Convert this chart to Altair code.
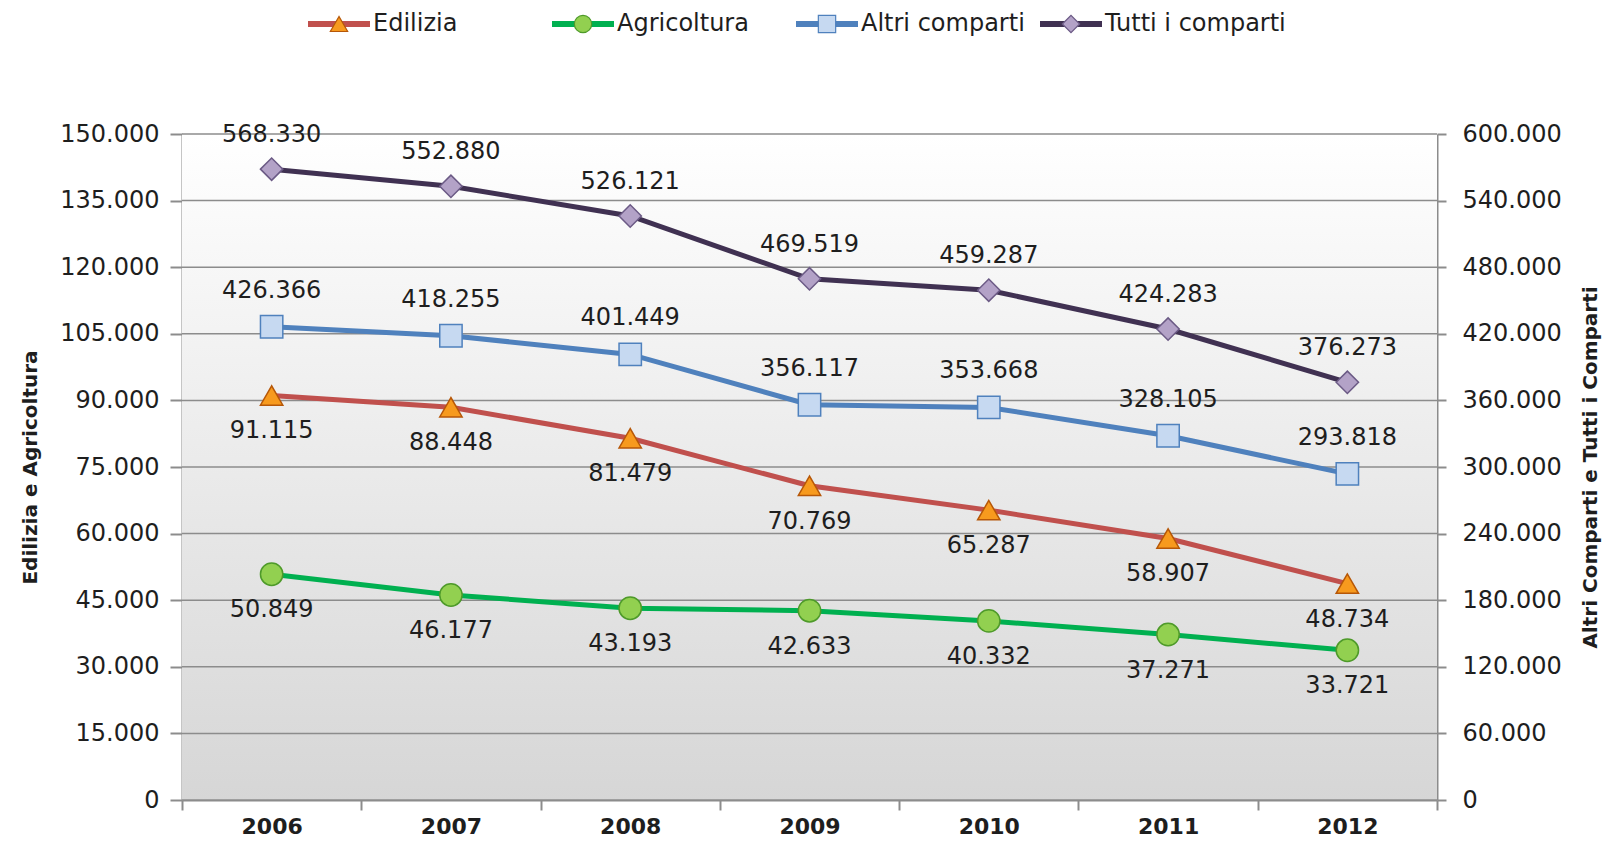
import altair as alt
import pandas as pd

years = ["2006", "2007", "2008", "2009", "2010", "2011", "2012"]
edilizia = [91115, 88448, 81479, 70769, 65287, 58907, 48734]
agricoltura = [50849, 46177, 43193, 42633, 40332, 37271, 33721]
altri = [426366, 418255, 401449, 356117, 353668, 328105, 293818]
tutti = [568330, 552880, 526121, 469519, 459287, 424283, 376273]
left_ticks = [0, 15000, 30000, 45000, 60000, 75000, 90000, 105000, 120000, 135000, 150000]
right_ticks = [0, 60000, 120000, 180000, 240000, 300000, 360000, 420000, 480000, 540000, 600000]

series = ["Edilizia", "Agricoltura", "Altri comparti", "Tutti i comparti"]
line_colors = ["#C0504D", "#00B050", "#4F81BD", "#403152"]
marker_fills = ["#F79A1E", "#92D050", "#C6D9F1", "#B3A2C7"]
marker_strokes = ["#B65708", "#4E9A2A", "#4F81BD", "#6B5A85"]
shapes = ["triangle-up", "circle", "square", "diamond"]

rows = []
for s, vals in zip(series, [edilizia, agricoltura, altri, tutti]):
    for y, v in zip(years, vals):
        rows.append({"Anno": y, "Serie": s, "Valore": v})
df = pd.DataFrame(rows)
left_df = df[df.Serie.isin(["Edilizia", "Agricoltura"])]
right_df = df[df.Serie.isin(["Altri comparti", "Tutti i comparti"])]

W, H = 1255, 666
FONT = "DejaVu Sans"
FS = 24
TXT = "#1e1e1e"
AX = "#8c8c8c"
fmt_expr = "replace(format(datum.value, ','), ',', '.')"


def x_enc(show):
    if show:
        ax = alt.Axis(title=None, tickBand="extent", labelAngle=0, labelFontSize=22,
                      labelFont=FONT, labelFontWeight="bold", labelColor=TXT, tickSize=10,
                      labelPadding=6, domainColor=AX, tickColor=AX,
                      domainWidth=2, tickWidth=2, grid=False)
    else:
        ax = None
    return alt.X("Anno:N", scale=alt.Scale(domain=years, paddingInner=0, paddingOuter=0),
                 axis=ax)


line_scale = alt.Scale(domain=series, range=line_colors)
mstroke_scale = alt.Scale(domain=series, range=marker_strokes)
fill_scale = alt.Scale(domain=series, range=marker_fills)
shape_scale = alt.Scale(domain=series, range=shapes)


def group(data, domain_max, axis, offsets, show_x):
    yenc = alt.Y("Valore:Q", scale=alt.Scale(domain=[0, domain_max], nice=False, zero=True),
                 axis=axis)
    base = alt.Chart(data).encode(x=x_enc(show_x), y=yenc)
    line = base.mark_line(strokeWidth=5).encode(
        color=alt.Color("Serie:N", scale=line_scale, legend=None))
    pts = base.mark_point(filled=True, size=500, strokeWidth=1.5, opacity=1).encode(
        fill=alt.Fill("Serie:N", scale=fill_scale, legend=None),
        stroke=alt.Stroke("Serie:N", scale=mstroke_scale, legend=None),
        shape=alt.Shape("Serie:N", scale=shape_scale, legend=None))
    labels = []
    for s, dy in offsets.items():
        labels.append(base.transform_filter(alt.datum.Serie == s).transform_calculate(
            lab="replace(format(datum.Valore, ','), ',', '.')").mark_text(
            dy=dy, fontSize=FS, font=FONT, color=TXT).encode(text="lab:N"))
    return [line, pts] + labels


left_axis = alt.Axis(title="Edilizia e Agricoltura", values=left_ticks,
                     labelExpr=fmt_expr, labelFontSize=FS, labelFont=FONT, labelColor=TXT,
                     titleFontSize=20, titleFont=FONT, titleFontWeight="bold", titleColor=TXT,
                     titleX=-142, titleY=H / 2, titleAngle=270, titleBaseline="bottom",
                     tickSize=12, labelPadding=11, grid=False, domainColor=AX,
                     tickColor=AX, domainWidth=2, tickWidth=2)
right_axis = alt.Axis(title="Altri Comparti e Tutti i Comparti", orient="right",
                      values=right_ticks, labelExpr=fmt_expr,
                      labelFontSize=FS, labelFont=FONT, labelColor=TXT,
                      titleFontSize=20, titleFont=FONT, titleFontWeight="bold",
                      titleColor=TXT, titleAngle=270, titleX=163, titleY=H / 2,
                      titleBaseline="bottom", tickSize=9,
                      labelPadding=16, grid=False, domainColor=AX,
                      tickColor=AX, domainWidth=2, tickWidth=2)

bg = alt.Chart(alt.Data(values=[{"a": 1}])).mark_rect(
    color=alt.Gradient(gradient="linear",
                       stops=[alt.GradientStop(color="#ffffff", offset=0),
                              alt.GradientStop(color="#d6d6d6", offset=1)],
                       x1=0, x2=0, y1=0, y2=1)
).encode(x=alt.value(0), x2=alt.value(W), y=alt.value(0), y2=alt.value(H))

grid = alt.Chart(pd.DataFrame({"t": left_ticks})).mark_rule(
    color=AX, strokeWidth=1.5).encode(
    y=alt.Y("t:Q", scale=alt.Scale(domain=[0, 150000], nice=False), axis=left_axis))

left = alt.layer(bg, grid, *group(left_df, 150000, left_axis,
                                  {"Edilizia": 36, "Agricoltura": 36}, True))
right = alt.layer(*group(right_df, 600000, right_axis,
                         {"Altri comparti": -36, "Tutti i comparti": -34}, False))

# legend (line segment + marker + label for each series)
leg_df = pd.DataFrame({"Serie": series})
LEG_Y = -110
leg_x = alt.X("Serie:N", type="nominal",
              scale=alt.Scale(type="point", domain=series, range=[157, 889], padding=0),
              axis=None)
leg_base = alt.Chart(leg_df).encode(x=leg_x)
leg_line = leg_base.mark_rule(strokeWidth=6, xOffset=-31, x2Offset=31).encode(
    x2=alt.X2("Serie"), y=alt.value(LEG_Y),
    color=alt.Color("Serie:N", scale=line_scale, legend=None))
leg_pts = leg_base.mark_point(filled=True, size=300, strokeWidth=1.2, opacity=1).encode(
    y=alt.value(LEG_Y),
    fill=alt.Fill("Serie:N", scale=fill_scale, legend=None),
    stroke=alt.Stroke("Serie:N", scale=mstroke_scale, legend=None),
    shape=alt.Shape("Serie:N", scale=shape_scale, legend=None))
leg_txt = leg_base.mark_text(align="left", dx=34, fontSize=24, font=FONT,
                             color=TXT, baseline="middle").encode(
    y=alt.value(LEG_Y), text="Serie:N")
leg = alt.layer(leg_line, leg_pts, leg_txt)

chart = alt.layer(left, right, leg).resolve_scale(
    y="independent", x="independent").properties(
    width=W, height=H,
    autosize=alt.AutoSizeParams(type="none"),
    padding={"left": 182, "top": 134, "right": 170, "bottom": 41},
    background="white"
).configure_view(stroke=None)

chart.save("out.html", embed_options={"renderer": "svg", "actions": False})
